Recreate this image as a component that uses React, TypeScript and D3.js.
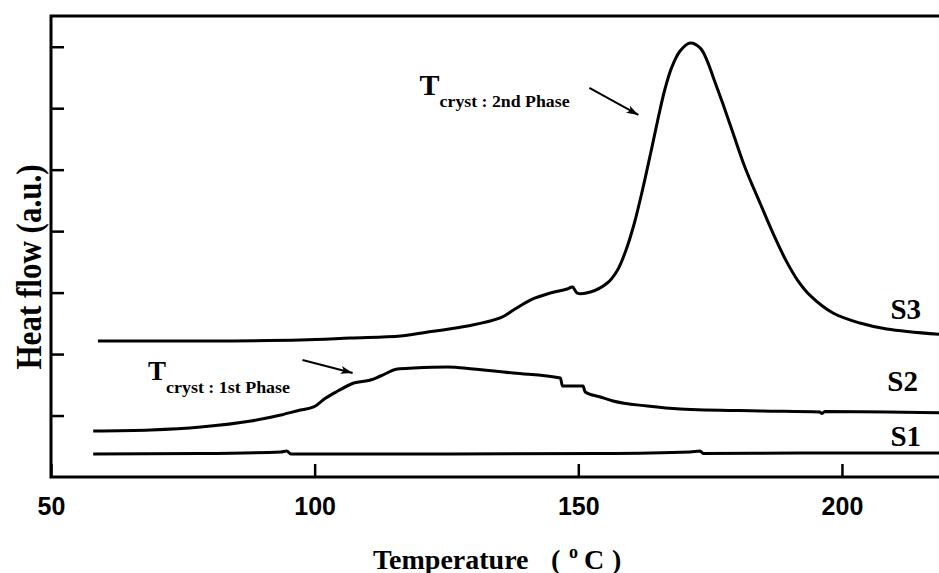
import React, {useEffect, useRef} from 'react';
import * as d3 from 'd3';

// DSC cooling curves: [temperature °C, heat flow a.u.]
const s1: [number, number][] = [
    [58.0, 0.374], [78.4, 0.382], [93.6, 0.407], [94.7, 0.423], [95.5, 0.374],
    [125.8, 0.374], [154.2, 0.382], [171.2, 0.407], [173.1, 0.423], [173.7, 0.382],
    [192.0, 0.39], [220.0, 0.39],
];

const s2: [number, number][] = [
    [58.0, 0.748], [68.9, 0.765], [78.4, 0.813], [87.9, 0.911], [93.6, 1.009],
    [97.3, 1.09], [99.8, 1.139], [102.1, 1.285], [104.4, 1.399], [107.4, 1.529],
    [110.6, 1.578], [112.5, 1.643], [115.7, 1.757], [118.8, 1.773], [125.2, 1.789],
    [130.1, 1.757], [137.7, 1.692], [146.6, 1.611], [147.0, 1.48], [150.9, 1.48],
    [151.3, 1.383], [154.2, 1.301], [156.6, 1.236], [163.1, 1.155], [169.3, 1.106],
    [184.5, 1.074], [195.8, 1.057], [196.2, 1.033], [196.8, 1.066], [220.0, 1.041],
];

const s3: [number, number][] = [
    [58.9, 2.212], [78.4, 2.212], [97.3, 2.229], [106.8, 2.261], [116.3, 2.294],
    [122.5, 2.37], [129.0, 2.456], [135.2, 2.587], [137.7, 2.717], [140.9, 2.879],
    [144.7, 2.993], [147.9, 3.058], [148.9, 3.091], [149.8, 2.993], [152.3, 3.01],
    [155.5, 3.156], [157.4, 3.36], [159.0, 3.68], [160.6, 4.12], [162.2, 4.68],
    [163.8, 5.3], [165.2, 5.86], [166.4, 6.3], [167.7, 6.66], [169.3, 6.93], [171.2, 7.06],
    [173.1, 6.98], [174.4, 6.78], [175.6, 6.5], [177.3, 6.1], [179.4, 5.58],
    [181.6, 5.04], [184.5, 4.45], [187.0, 3.95], [189.4, 3.52], [191.6, 3.2],
    [194.0, 2.95], [198.3, 2.668], [203.4, 2.505], [208.5, 2.408], [220.0, 2.31],
];

const seriesNames = ['S1', 'S2', 'S3'];
const seriesData = [s1, s2, s3];
// where the S labels sit (temperature, heat flow)
const labelAt: [number, number][] = [[209.2, 0.5], [208.6, 1.4], [209.2, 2.57]];

const xTicks = [50, 100, 150, 200];
const yTicks = [1, 2, 3, 4, 5, 6, 7];

const config = {
    width: 939,
    height: 573,
    margin: {left: 51, top: 16, bottom: 96},
};

const font = '"Liberation Serif", "Times New Roman", serif';

function App() {
    const gx = useRef<SVGGElement>(null);
    const gy = useRef<SVGGElement>(null);
    const margin = config.margin;
    const bottom = config.height - margin.bottom;

    const x = d3.scaleLinear()
        .domain([50, 220])
        .range([margin.left, margin.left + 170 * 5.273]);

    const y = d3.scaleLinear()
        .domain([0, 7.5])
        .range([bottom, margin.top]);

    const stepLine = d3.line<[number, number]>()
        .x(d => x(d[0]))
        .y(d => y(d[1]))
        .curve(d3.curveMonotoneX);

    // the big exotherm is smooth, catmull-rom rounds the peak better
    const smoothLine = d3.line<[number, number]>()
        .x(d => x(d[0]))
        .y(d => y(d[1]))
        .curve(d3.curveCatmullRom.alpha(0.5));

    useEffect(() => {
        const ax = d3.select(gx.current!);
        ax.call(d3.axisBottom(x).tickValues(xTicks).tickSizeInner(-13).tickSizeOuter(0).tickPadding(20));
        ax.select('.domain').remove();
        ax.selectAll('line').attr('stroke', '#000').attr('stroke-width', 2.5);
        ax.selectAll('text')
            .attr('font-family', '"Liberation Sans", Arial, sans-serif')
            .attr('font-weight', 'bold')
            .attr('font-size', 25)
            .attr('fill', '#000');

        const ay = d3.select(gy.current!);
        ay.call(d3.axisLeft(y).tickValues(yTicks).tickSizeInner(-13).tickSizeOuter(0).tickFormat(() => ''));
        ay.select('.domain').remove();
        ay.selectAll('line').attr('stroke', '#000').attr('stroke-width', 2.5);
    }, []);

    return (
        <svg width={config.width} height={config.height}
             style={{position: 'absolute', left: 0, top: 0, background: '#fff'}}>
            <defs>
                <marker id="arrow" viewBox="0 0 12 8" refX="12" refY="4"
                        markerWidth="12" markerHeight="8" markerUnits="userSpaceOnUse" orient="auto">
                    <path d="M0,0 L12,4 L0,8 L3,4 Z" fill="#000"/>
                </marker>
            </defs>

            {seriesData.map((d, i) => (
                <path key={seriesNames[i]} d={(i === 2 ? smoothLine(d) : stepLine(d)) ?? ''} fill="none"
                      stroke="#000" strokeWidth={3} strokeLinejoin="round"/>
            ))}

            {/* frame: left, bottom, top (right side is cut off) */}
            <path d={`M${config.width},${margin.top} H${margin.left} V${bottom} H${config.width}`}
                  fill="none" stroke="#000" strokeWidth={3}/>

            <g ref={gx} transform={`translate(0, ${bottom})`}/>
            <g ref={gy} transform={`translate(${margin.left}, 0)`}/>

            {seriesNames.map((s, i) => (
                <text key={s} x={x(labelAt[i][0])} y={y(labelAt[i][1])}
                      fontFamily={font} fontWeight="bold" fontSize={29}>{s}</text>
            ))}

            {/* annotations */}
            <text x={x(119.9)} y={y(6.214)} fontFamily={font} fontWeight="bold">
                <tspan fontSize={30}>T</tspan>
                <tspan fontSize={17} dy={12} textLength={130} lengthAdjust="spacingAndGlyphs">cryst : 2nd Phase</tspan>
            </text>
            <line x1={x(152.1)} y1={y(6.33)} x2={x(161.4)} y2={y(5.89)}
                  stroke="#000" strokeWidth={2} markerEnd="url(#arrow)"/>

            <text x={x(68.4)} y={y(1.578)} fontFamily={font} fontWeight="bold">
                <tspan fontSize={27}>T</tspan>
                <tspan fontSize={17} dy={13} textLength={124} lengthAdjust="spacingAndGlyphs">cryst : 1st Phase</tspan>
            </text>
            <line x1={x(97.7)} y1={y(1.903)} x2={x(107.2)} y2={y(1.692)}
                  stroke="#000" strokeWidth={2} markerEnd="url(#arrow)"/>

            {/* axis titles */}
            <text transform={`translate(41, 267) rotate(-90)`} textAnchor="middle"
                  fontFamily={font} fontWeight="bold" fontSize={36}
                  textLength={205} lengthAdjust="spacingAndGlyphs">Heat flow (a.u.)</text>
            <text y={569} fontFamily={font} fontWeight="bold" fontSize={28}>
                <tspan x={373}>Temperature</tspan>
                <tspan x={551}>(</tspan>
                <tspan x={569} dy={-11} fontSize={18}>o</tspan>
                <tspan x={584} dy={11}>C</tspan>
                <tspan x={612}>)</tspan>
            </text>
        </svg>
    );
}

export default App;
